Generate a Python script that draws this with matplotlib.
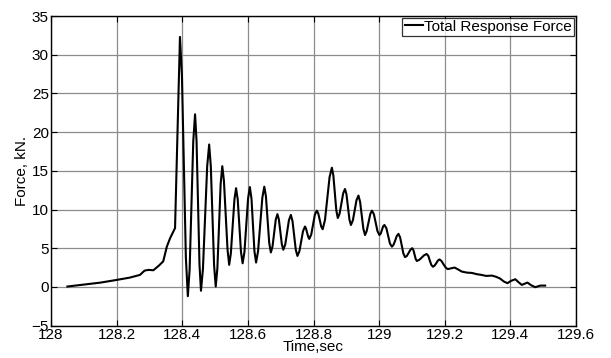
import matplotlib
matplotlib.use("Agg")
import matplotlib.pyplot as plt

plt.rcParams['font.family'] = ['Liberation Sans', 'DejaVu Sans']

time_s = [128.05, 128.10, 128.15, 128.20, 128.24, 128.271, 128.285, 128.297, 128.312,
          128.330, 128.342, 128.353, 128.363, 128.378, 128.393,
          128.399, 128.405, 128.411, 128.417,
          128.4225, 128.428, 128.4335, 128.439,
          128.4435, 128.448, 128.4525, 128.457,
          128.463, 128.4695, 128.476, 128.482,
          128.487, 128.492, 128.497, 128.502,
          128.507, 128.512, 128.517, 128.522,
          128.527, 128.5325, 128.538, 128.543,
          128.548, 128.5535, 128.559, 128.564,
          128.569, 128.574, 128.579, 128.584,
          128.5895, 128.595, 128.6005, 128.606,
          128.611, 128.6155, 128.620, 128.625,
          128.631, 128.6375, 128.644, 128.650,
          128.655, 128.660, 128.665, 128.670,
          128.675, 128.680, 128.685, 128.690,
          128.6945, 128.699, 128.7035, 128.708,
          128.714, 128.7195, 128.725, 128.731,
          128.736, 128.741, 128.746, 128.751,
          128.757, 128.7625, 128.768, 128.774,
          128.777, 128.7805, 128.784, 128.787,
          128.793, 128.7985, 128.804, 128.810,
          128.8145, 128.819, 128.8235, 128.828,
          128.835, 128.842, 128.849, 128.856,
          128.8605, 128.865, 128.8695, 128.874,
          128.8795, 128.885, 128.8905, 128.896,
          128.9005, 128.905, 128.9095, 128.914,
          128.920, 128.9255, 128.931, 128.937,
          128.942, 128.947, 128.952, 128.957,
          128.962, 128.9675, 128.973, 128.978,
          128.984, 128.9895, 128.995, 129.001,
          129.005, 129.0085, 129.012, 129.016,
          129.022, 129.0275, 129.033, 129.039,
          129.044, 129.049, 129.054, 129.059,
          129.064, 129.069, 129.074, 129.079,
          129.0845, 129.090, 129.0955, 129.101,
          129.1045, 129.108, 129.1115, 129.115,
          129.1225, 129.130, 129.1375, 129.145,
          129.150, 129.1545, 129.159, 129.164,
          129.169, 129.174, 129.179, 129.184,
          129.190, 129.1965, 129.203, 129.209,
          129.22, 129.23, 129.241, 129.252, 129.267, 129.283, 129.298, 129.312,
          129.326, 129.344, 129.357, 129.369, 129.38, 129.391, 129.403, 129.415,
          129.425, 129.435, 129.452, 129.464, 129.476, 129.491, 129.506]
force_kn = [0.05, 0.3, 0.55, 0.9, 1.2, 1.55, 2.1, 2.2, 2.15,
            2.8, 3.3, 5.2, 6.3, 7.6, 32.3,
            27.3, 15.5, 3.8, -1.2,
            2.3, 10.5, 18.8, 22.3,
            18.9, 10.9, 2.9, -0.5,
            2.3, 8.95, 15.6, 18.4,
            15.6, 9.2, 2.8, 0.05,
            2.4, 7.8, 13.3, 15.6,
            13.7, 9.2, 4.8, 2.85,
            4.3, 7.8, 11.3, 12.75,
            11.3, 7.9, 4.5, 3.05,
            4.5, 8.0, 11.4, 12.9,
            11.4, 8.0, 4.6, 3.15,
            4.6, 8.05, 11.5, 12.95,
            11.7, 8.7, 5.7, 4.45,
            5.2, 6.9, 8.7, 9.4,
            8.7, 7.1, 5.5, 4.8,
            5.5, 7.05, 8.6, 9.3,
            8.5, 6.65, 4.8, 4.0,
            4.6, 5.9, 7.2, 7.8,
            7.55, 7.0, 6.45, 6.2,
            6.75, 8.0, 9.3, 9.85,
            9.5, 8.65, 7.8, 7.45,
            8.65, 11.4, 14.2, 15.4,
            14.4, 12.15, 9.9, 8.9,
            9.45, 10.8, 12.1, 12.65,
            11.95, 10.3, 8.7, 8.0,
            8.6, 9.9, 11.2, 11.8,
            11.0, 9.25, 7.5, 6.7,
            7.2, 8.3, 9.4, 9.85,
            9.4, 8.3, 7.2, 6.7,
            6.9, 7.35, 7.8, 8.0,
            7.6, 6.6, 5.6, 5.2,
            5.45, 6.0, 6.6, 6.85,
            6.4, 5.35, 4.3, 3.85,
            4.0, 4.4, 4.8, 5.0,
            4.75, 4.2, 3.6, 3.35,
            3.5, 3.8, 4.1, 4.25,
            4.0, 3.4, 2.85, 2.6,
            2.75, 3.05, 3.4, 3.55,
            3.35, 2.9, 2.5, 2.3,
            2.4, 2.5, 2.25, 1.98, 1.85, 1.8, 1.64, 1.55,
            1.42, 1.46, 1.3, 1.07, 0.7, 0.48, 0.8, 0.99,
            0.6, 0.26, 0.56, 0.2, -0.04, 0.17, 0.17]

x_ticks = [128, 128.2, 128.4, 128.6, 128.8, 129, 129.2, 129.4, 129.6]
x_tick_labels = ['128', '128.2', '128.4', '128.6', '128.8', '129', '129.2', '129.4', '129.6']
y_ticks = [-5, 0, 5, 10, 15, 20, 25, 30, 35]

fig = plt.figure(figsize=(6.11, 3.58), dpi=100)
ax = fig.add_axes([0.0835, 0.0905, 0.8592, 0.8648])
ax.plot(time_s, force_kn, color='black', lw=1.5, label='Total Response Force',
        solid_joinstyle='round')
ax.set_xlim(128, 129.6)
ax.set_ylim(-5, 35)
ax.set_xticks(x_ticks)
ax.set_xticklabels(x_tick_labels)
ax.set_yticks(y_ticks)
ax.grid(True, color='#8c8c8c', lw=0.9, ls='-')
ax.set_axisbelow(True)
ax.tick_params(direction='in', top=True, right=True, length=4, width=0.8,
               labelsize=11, pad=1.5)
for s in ax.spines.values():
    s.set_linewidth(1.0)
ax.set_xlabel('Time,sec', fontsize=11, labelpad=-1)
ax.set_ylabel('Force, kN.', fontsize=11, labelpad=2)
leg = ax.legend(loc='upper right', fontsize=11, frameon=True, fancybox=False,
                edgecolor='black', borderpad=0.15, handlelength=1.2,
                handletextpad=0.1, borderaxespad=0.1)
leg.get_frame().set_linewidth(0.9)
fig.savefig('out.png', dpi=100)
